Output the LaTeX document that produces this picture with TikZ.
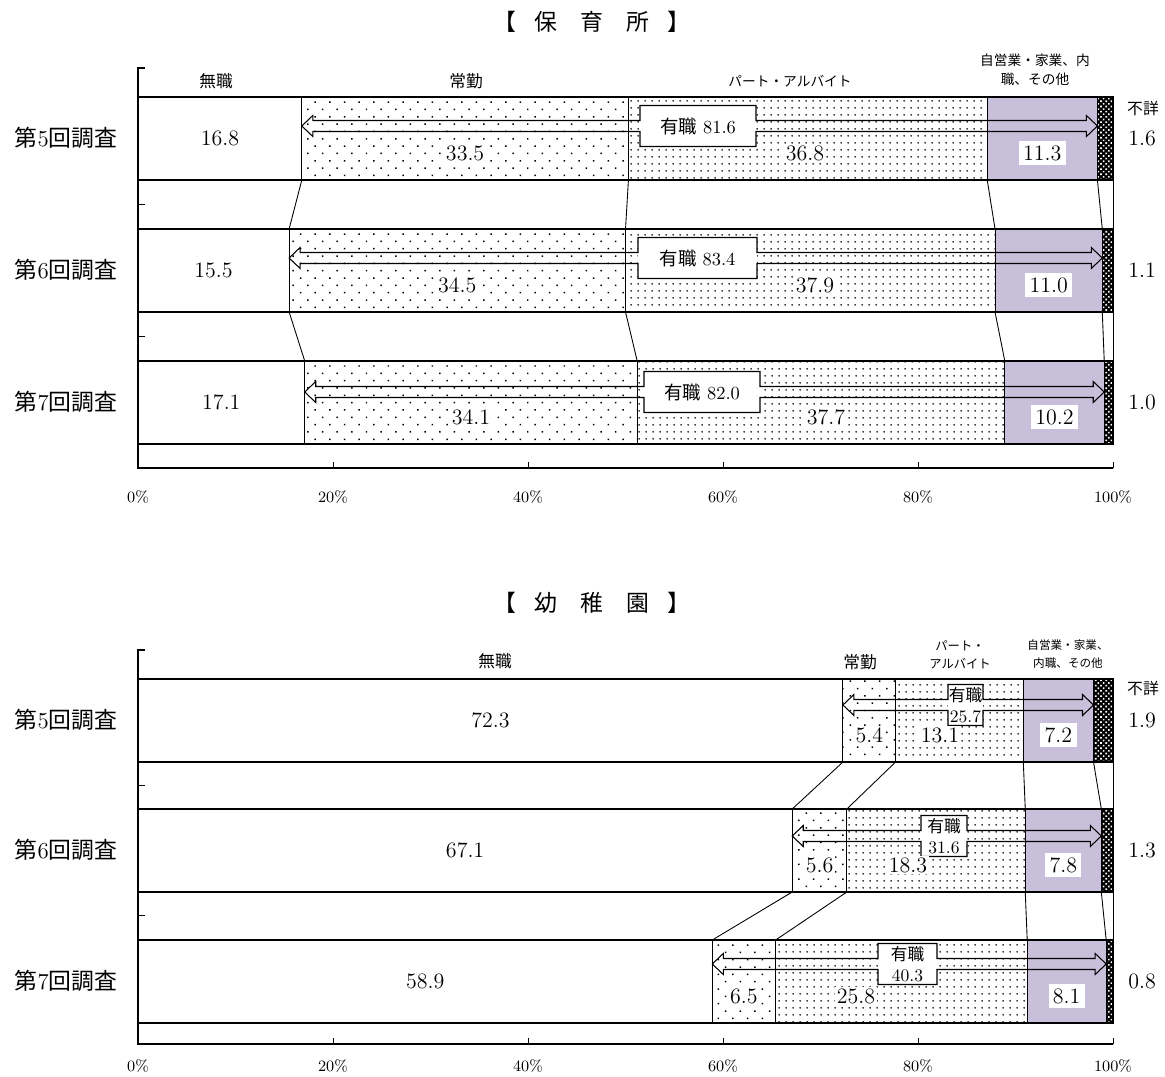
\documentclass[tikz,border=0pt]{standalone}
\usepackage{fontspec}
\newfontfamily\jp{Noto Sans CJK JP}
\usetikzlibrary{patterns.meta}

\definecolor{selfcol}{RGB}{200,191,219}

\tikzset{
  segline/.style={draw=black,line width=0.6pt},
  jobless/.style={segline,fill=white},
  fulltime/.style={segline,pattern={Dots[distance=5.9pt,angle=45,radius=0.6pt]}},
  parttime/.style={segline,pattern={Dots[distance=4pt,radius=0.6pt]}},
  selfjob/.style={segline,fill=selfcol},
  unknown/.style={segline,preaction={fill=black},pattern={Dots[distance=2.1pt,angle=45,radius=0.65pt]},pattern color=white},
  axisline/.style={line width=1.3pt},
  link/.style={line width=0.5pt},
  valplain/.style={font=\fontsize{12.5}{14}\selectfont},
  valtxt/.style={valplain,fill=white,inner sep=1pt},
  valbox/.style={valplain,fill=white,inner sep=2.5pt},
  rowtxt/.style={font=\jp\fontsize{13}{15}\selectfont},
  cattxt/.style={font=\jp\fontsize{9.5}{12}\selectfont,align=center},
  pcttxt/.style={font=\fontsize{9}{11}\selectfont},
  boxtxt/.style={align=center,inner sep=0pt},
  titletxt/.style={font=\jp\fontsize{13}{15}\selectfont},
}

\begin{document}
\begin{tikzpicture}[x=0.02cm,y=-0.02cm]
\useasboundingbox (0,0) rectangle (1165,1077);

% titles
\node[titletxt] (h-title) at (592,22) {【\hspace{0.8em}保\hspace{1em}育\hspace{1em}所\hspace{0.8em}】};
\node[titletxt] (k-title) at (592,603) {【\hspace{0.8em}幼\hspace{1em}稚\hspace{1em}園\hspace{0.8em}】};

% bars, arrows and values
\foreach \id/\n/\yt/\va/\vb/\vc/\vd/\ve/\ay/\bl/\br/\px/\bt in {
  h5/5/97/16.8/33.5/36.8/11.3/1.6/29/640/756/805/{\fontsize{10.5}{12}\selectfont{\jp 有職} 81.6},
  h6/6/229/15.5/34.5/37.9/11.0/1.1/29/638/757/815/{\fontsize{10.5}{12}\selectfont{\jp 有職} 83.4},
  h7/7/361/17.1/34.1/37.7/10.2/1.0/31/644/760/826/{\fontsize{10.5}{12}\selectfont{\jp 有職} 82.0},
  k5/5/679/72.3/5.4/13.1/7.2/1.9/26/948/983/940/{\fontsize{9.5}{11}\selectfont{\jp 有職}\\25.7},
  k6/6/809/67.1/5.6/18.3/7.8/1.3/27/921/967/908/{\fontsize{9.5}{11}\selectfont{\jp 有職}\\31.6},
  k7/7/940/58.9/6.5/25.8/8.1/0.8/24/878/937/856/{\fontsize{9.5}{11}\selectfont{\jp 有職}\\40.3}}{
  \pgfmathsetmacro\xa{138+9.75*\va}
  \pgfmathsetmacro\xb{\xa+9.75*\vb}
  \pgfmathsetmacro\xc{\xb+9.75*\vc}
  \pgfmathsetmacro\xd{\xc+9.75*\vd}
  \pgfmathsetmacro\yb{\yt+83}
  \pgfmathsetmacro\ym{\yt+41}
  \pgfmathsetmacro\yv{\yt+56}
  \pgfmathsetmacro\yc{\yt+\ay}
  \path[jobless] (138,\yt) rectangle (\xa,\yb);
  \path[fulltime] (\xa,\yt) rectangle (\xb,\yb);
  \path[parttime] (\xb,\yt) rectangle (\xc,\yb);
  \path[selfjob] (\xc,\yt) rectangle (\xd,\yb);
  \path[unknown] (\xd,\yt) rectangle (1113,\yb);
  \path (\xa,\yt) coordinate (\id-t1) (\xa,\yb) coordinate (\id-b1)
        (\xb,\yt) coordinate (\id-t2) (\xb,\yb) coordinate (\id-b2)
        (\xc,\yt) coordinate (\id-t3) (\xc,\yb) coordinate (\id-b3)
        (\xd,\yt) coordinate (\id-t4) (\xd,\yb) coordinate (\id-b4)
        (1113,\yt) coordinate (\id-t5) (1113,\yb) coordinate (\id-b5);
  % 有職 arrow
  \fill[white] (\bl,\yc-20.5) rectangle (\br,\yc+20.5);
  \draw[line width=0.6pt] (\xa,\yc) -- ++(11,-10.5) -- ++(0,5) -- (\bl,\yc-5.5)
    -- (\bl,\yc-20.5) -- (\br,\yc-20.5) -- (\br,\yc-5.5) -- (\xd-11,\yc-5.5)
    -- ++(0,-5) -- (\xd,\yc) -- ++(-11,10.5) -- ++(0,-5) -- (\br,\yc+5.5)
    -- (\br,\yc+20.5) -- (\bl,\yc+20.5) -- (\bl,\yc+5.5) -- (\xa+11,\yc+5.5)
    -- ++(0,5) -- cycle;
  \node[boxtxt] (\id-job) at ({(\bl+\br)/2},\yc) {\bt};
  % values
  \node[valplain] (\id-v1) at ({(138+\xa)/2},\ym) {\va};
  \node[valtxt] (\id-v2) at ({(\xa+\xb)/2},\yv) {\vb};
  \node[valtxt] (\id-v3) at (\px,\yv) {\vc};
  \node[valbox] (\id-v4) at ({(\xc+\xd)/2},\yv) {\vd};
  \node[valplain] (\id-v5) at (1142,\ym) {\ve};
  \node[rowtxt] (\id-row) at (66,\ym) {第{\rmfamily\n}回調査};
}

% links between bars
\foreach \p/\q in {h5/h6,h6/h7,k5/k6,k6/k7}
  \foreach \k in {1,...,5}
    \draw[link] (\p-b\k) -- (\q-t\k);

% axes
\draw[axisline] (145,68) -- (138,68) -- (138,468) -- (1113,468);
\draw[axisline] (145,650) -- (138,650) -- (138,1044) -- (1113,1044);
\foreach \y in {204,336,785,915}
  \draw[link] (138,\y) -- (145,\y);
\foreach \p in {20,40,...,100}{
  \draw[link] (138+9.75*\p,468) -- ++(0,-6);
  \draw[link] (138+9.75*\p,1044) -- ++(0,-6);
}
\foreach \p in {0,20,...,100}{
  \node[pcttxt] (h-p\p) at (138+9.75*\p,497) {\p\%};
  \node[pcttxt] (k-p\p) at (138+9.75*\p,1066) {\p\%};
}

% category labels
\node[cattxt] (h-jl) at (216,81) {無職};
\node[cattxt] (h-ft) at (466,81) {常勤};
\node[cattxt,font=\jp\fontsize{7.8}{10}\selectfont] (h-pt) at (790,81) {パート・アルバイト};
\node[cattxt,font=\jp\fontsize{7.8}{10.5}\selectfont] (h-se) at (1035,70) {自営業・家業、内\\職、その他};
\node[cattxt,font=\jp\fontsize{9}{11}\selectfont] (h-uk) at (1143,108) {不詳};
\node[cattxt] (k-jl) at (495,661) {無職};
\node[cattxt] (k-ft) at (860,662) {常勤};
\node[cattxt,font=\jp\fontsize{7}{10.5}\selectfont] (k-pt) at (960,655) {パート・\\アルバイト};
\node[cattxt,font=\jp\fontsize{6.6}{10}\selectfont] (k-se) at (1068,654) {自営業・家業、\\内職、その他};
\node[cattxt,font=\jp\fontsize{9}{11}\selectfont] (k-uk) at (1143,688) {不詳};
\end{tikzpicture}
\end{document}
